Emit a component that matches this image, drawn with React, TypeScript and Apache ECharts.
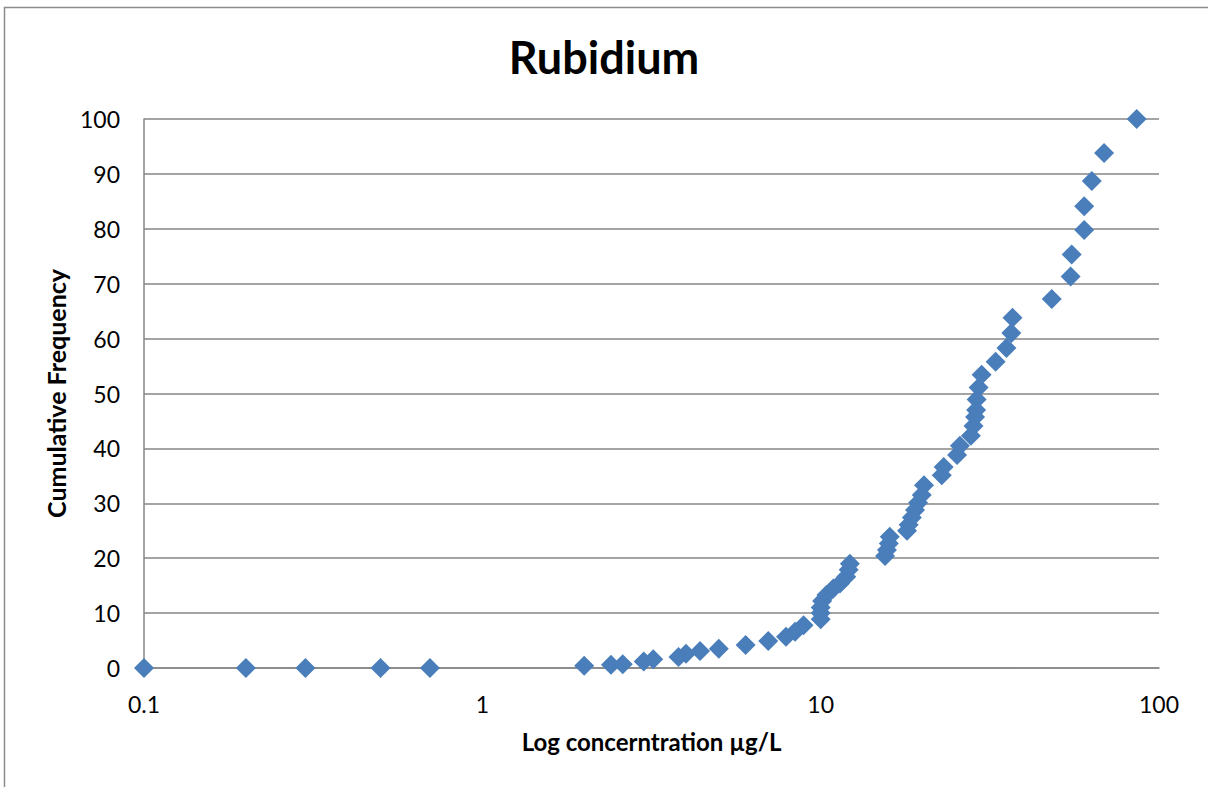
import React, { useEffect, useRef } from "react";
import * as echarts from "echarts";

// Rubidium concentrations (µg/L) and their cumulative frequency (%)
const concentration: number[] = [
  0.1, 0.2, 0.3, 0.5, 0.7,
  2.0, 2.4, 2.6, 3.0, 3.2, 3.8, 4.0, 4.4, 5.0, 6.0, 7.0, 7.9, 8.4, 8.9,
  10.0, 10.0, 10.0, 10.1, 10.4, 10.9, 11.4, 11.9, 12.1, 12.2,
  15.5, 15.7, 15.9, 16.0, 18.0, 18.2, 18.6, 19.0, 19.4, 19.9, 20.2,
  22.8, 23.1, 25.3, 25.8, 27.8, 28.3, 28.6, 28.8, 28.9, 29.3, 29.9,
  32.9, 35.4, 36.6, 36.9, 48.2, 54.8, 55.2, 60.1, 60.1, 63.3, 68.8, 85.9,
];
const cumulativeFrequency: number[] = [
  0, 0, 0, 0, 0,
  0.4, 0.6, 0.7, 1.2, 1.6, 2.0, 2.6, 3.1, 3.5, 4.2, 4.9, 5.7, 6.6, 7.8,
  8.9, 10.0, 11.0, 12.2, 13.3, 14.5, 15.4, 16.6, 17.9, 19.0,
  20.4, 21.5, 22.7, 23.9, 25.0, 26.1, 27.4, 28.8, 30.1, 31.5, 33.3,
  35.1, 36.6, 38.8, 40.5, 42.3, 44.1, 45.7, 47.0, 48.9, 51.1, 53.4,
  55.8, 58.3, 61.0, 63.8, 67.2, 71.3, 75.3, 79.8, 84.1, 88.7, 93.8, 100,
];

const titleText = "Rubidium";
const xAxisTitle = "Log concerntration µg/L";
const yAxisTitle = "Cumulative Frequency";

const FONT = "Lato, 'Open Sans', sans-serif";
const GRID = "#868686";

export default function App() {
  const ref = useRef<HTMLDivElement>(null);

  useEffect(() => {
    if (!ref.current) return;
    const chart = echarts.init(ref.current, undefined, { renderer: "svg" });
    const points = concentration.map((c, i) => [c, cumulativeFrequency[i]]);

    chart.setOption({
      animation: false,
      backgroundColor: "#ffffff",
      textStyle: { fontFamily: FONT },
      title: {
        text: titleText,
        left: "center",
        top: 29,
        textStyle: { fontFamily: FONT, fontWeight: "bold", fontSize: 45, color: "#000" },
      },
      graphic: [
        {
          type: "rect",
          shape: { x: 4.5, y: 7.5, width: 1210, height: 820 },
          style: { fill: "none", stroke: "#8c8c8c", lineWidth: 1.5 },
          silent: true,
        },
      ],
      grid: { left: 144, right: 49, top: 119, bottom: 119, containLabel: false },
      xAxis: {
        type: "log",
        logBase: 10,
        min: 0.1,
        max: 100,
        name: xAxisTitle,
        nameLocation: "middle",
        nameGap: 61,
        nameTextStyle: { fontFamily: FONT, fontWeight: "bold", fontSize: 24, color: "#000" },
        axisLine: { show: true, lineStyle: { color: GRID, width: 1.5 } },
        axisTick: { show: false },
        splitLine: { show: false },
        minorTick: { show: false },
        axisLabel: {
          fontFamily: FONT,
          fontSize: 23,
          color: "#000",
          margin: 24,
          formatter: (v: number) => String(+v.toPrecision(6)),
        },
      },
      yAxis: {
        type: "value",
        min: 0,
        max: 100,
        interval: 10,
        name: yAxisTitle,
        nameLocation: "middle",
        nameGap: 76,
        nameTextStyle: { fontFamily: FONT, fontWeight: "bold", fontSize: 25, color: "#000" },
        axisLine: { show: true, lineStyle: { color: GRID, width: 1.5 } },
        axisTick: { show: false },
        splitLine: { show: true, lineStyle: { color: GRID, width: 1.5 } },
        axisLabel: { fontFamily: FONT, fontSize: 23, color: "#000", margin: 24 },
      },
      series: [
        {
          type: "scatter",
          data: points,
          symbol: "diamond",
          symbolSize: 20,
          itemStyle: { color: "#4A7EBB", opacity: 1 },
        },
      ],
    });

    return () => chart.dispose();
  }, []);

  return (
    <div
      ref={ref}
      style={{ position: "fixed", left: 0, top: 0, width: 1208, height: 787 }}
    />
  );
}
